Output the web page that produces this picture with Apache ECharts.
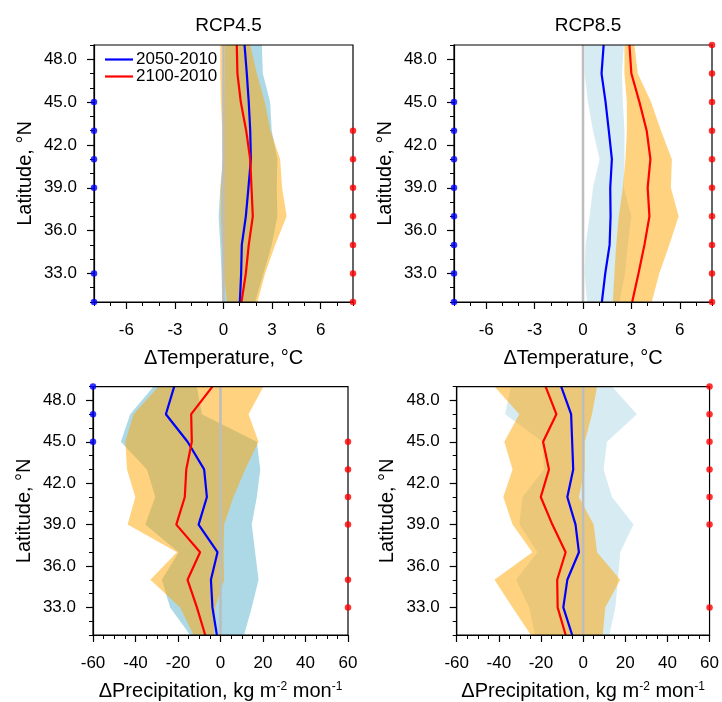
<!DOCTYPE html>
<html>
<head>
<meta charset="utf-8">
<script src="https://cdn.jsdelivr.net/npm/echarts@6/dist/echarts.min.js"></script>
<style>
html,body{margin:0;padding:0;background:#fff;}
#chart{width:722px;height:702px;}
</style>
</head>
<body>
<div id="chart"></div>
<script>
// ---- Data ----
const lat = [31, 33, 35, 37, 39, 41, 43, 45, 47, 49];
const latTicks = [33, 36, 39, 42, 45, 48];
const tempTicks = [-6, -3, 0, 3, 6];
const precTicks = [-60, -40, -20, 0, 20, 40, 60];
const seriesNames = ['2050-2010', '2100-2010'];
const panelTitles = ['RCP4.5', 'RCP8.5'];

// RCP4.5 temperature
const t45_2050 = [1.01, 1.09, 1.13, 1.38, 1.54, 1.69, 1.65, 1.56, 1.44, 1.30];
const t45_2100 = [1.11, 1.38, 1.56, 1.81, 1.73, 1.65, 1.40, 1.07, 0.86, 0.82];
const t45_2050_lo = [-0.08, -0.12, -0.2, -0.3, -0.2, -0.04, 0.0, 0.04, 0.08, 0.1];
const t45_2050_hi = [1.95, 2.47, 2.98, 3.33, 3.29, 3.33, 2.98, 2.88, 2.43, 2.37];
const t45_2100_lo = [0.2, 0.04, -0.1, -0.16, -0.16, -0.04, -0.08, -0.16, -0.2, -0.2];
const t45_2100_hi = [2.1, 2.57, 3.19, 3.9, 3.62, 3.5, 2.9, 2.55, 2.06, 1.65];
const t45_sig2050 = [31, 33, 39, 41, 43, 45];
const t45_sig2100 = [31, 33, 35, 37, 39, 41, 43];

// RCP8.5 temperature
const t85_2050 = [1.17, 1.38, 1.65, 1.71, 1.69, 1.79, 1.60, 1.40, 1.15, 1.28];
const t85_2100 = [3.05, 3.44, 3.81, 4.12, 4.01, 4.18, 3.95, 3.50, 3.0, 2.88];
const t85_2050_lo = [0.25, 0.1, 0.16, 0.41, 0.62, 1.03, 0.62, 0.31, 0.1, 0.1];
const t85_2050_hi = [2.26, 2.61, 2.78, 3.0, 2.53, 2.57, 2.57, 2.47, 2.41, 2.53];
const t85_2100_lo = [1.85, 1.95, 2.06, 2.22, 2.47, 2.63, 2.72, 2.72, 2.57, 2.57];
const t85_2100_hi = [4.26, 4.73, 5.35, 5.93, 5.45, 5.51, 4.84, 4.22, 3.4, 3.19];
const t85_sig2050 = [31, 33, 35, 37, 39, 41, 43, 45];
const t85_sig2100 = [31, 33, 35, 37, 39, 41, 43, 45, 47, 49];

// RCP4.5 precipitation
const p45_2050 = [-1.7, -3.8, -4.5, -1.4, -10.3, -6.4, -7.7, -15.5, -25.7, -21.8];
const p45_2100 = [-7.2, -11.1, -15.5, -9.6, -20.8, -16.8, -16.1, -13.5, -13.8, -3.8];
const p45_2050_lo = [-14.3, -23.7, -27.6, -19.7, -35.4, -30.7, -34.6, -46.9, -42.5, -31.5];
const p45_2050_hi = [11.1, 14.7, 17.9, 16.3, 14.7, 17.1, 18.7, 17.1, -8.8, -11.1];
const p45_2100_lo = [-12.7, -19, -33, -20.5, -43.7, -40.1, -44, -44.8, -40.9, -29.2];
const p45_2100_hi = [-3, -2.5, 1.7, 1.4, 1.7, 6.1, 11.6, 17.9, 13.2, 20.2];
const p45_sig2050 = [45, 47, 49];
const p45_sig2100 = [33, 35, 39, 41, 43, 45];

// RCP8.5 precipitation
const p85_2050 = [-5.2, -9.4, -7.5, -2.0, -3.6, -7.5, -4.7, -5.2, -5.7, -10.4];
const p85_2100 = [-8.3, -12.1, -12.3, -8.3, -14.6, -20.1, -16.2, -19.0, -12.7, -17.8];
const p85_2050_lo = [-22.8, -25.6, -31.9, -21.7, -30.3, -28.8, -18.6, -19.3, -37, -34.3];
const p85_2050_hi = [12.4, 15.3, 16.5, 17.6, 23.9, 13.7, 9.7, 11.3, 25.5, 13.7];
const p85_2100_lo = [-24.8, -33.5, -42.1, -24.1, -33.5, -37.9, -33.5, -37.4, -30.3, -42.1];
const p85_2100_hi = [9.3, 10.5, 17.6, 6.6, 5, -2, 0.8, 0.8, 4.2, 6.6];
const p85_sig2050 = [];
const p85_sig2100 = [33, 39, 41, 43, 45, 47, 49];

// ---- Layout / style ----
const FONT = '"Liberation Sans", Arial, Helvetica, sans-serif';
const latMin = 31, latMax = 49;
const panels = [
  { grid: { left: 94, top: 45, width: 259, height: 257 }, xmin: -8, xmax: 8, minor: 1, major: tempTicks,
    name: 'ΔTemperature, °C', l1: t45_2050, l2: t45_2100, b1lo: t45_2050_lo, b1hi: t45_2050_hi,
    b2lo: t45_2100_lo, b2hi: t45_2100_hi, s1: t45_sig2050, s2: t45_sig2100, blueFill: 'rgb(173,216,230)' },
  { grid: { left: 454, top: 45, width: 258, height: 257 }, xmin: -8, xmax: 8, minor: 1, major: tempTicks,
    name: 'ΔTemperature, °C', l1: t85_2050, l2: t85_2100, b1lo: t85_2050_lo, b1hi: t85_2050_hi,
    b2lo: t85_2100_lo, b2hi: t85_2100_hi, s1: t85_sig2050, s2: t85_sig2100, blueFill: 'rgba(173,216,230,0.5)' },
  { grid: { left: 93, top: 386.6, width: 255, height: 253.4 }, xmin: -60, xmax: 60, minor: 5, major: precTicks,
    name: 'ΔPrecipitation, kg m{sup|-2} mon{sup|-1}', l1: p45_2050, l2: p45_2100, b1lo: p45_2050_lo, b1hi: p45_2050_hi,
    b2lo: p45_2100_lo, b2hi: p45_2100_hi, s1: p45_sig2050, s2: p45_sig2100, blueFill: 'rgb(173,216,230)' },
  { grid: { left: 456.7, top: 386.6, width: 253.3, height: 253.4 }, xmin: -60, xmax: 60, minor: 5, major: precTicks,
    name: 'ΔPrecipitation, kg m{sup|-2} mon{sup|-1}', l1: p85_2050, l2: p85_2100, b1lo: p85_2050_lo, b1hi: p85_2050_hi,
    b2lo: p85_2100_lo, b2hi: p85_2100_hi, s1: p85_sig2050, s2: p85_sig2100, blueFill: 'rgba(173,216,230,0.5)' }
];

const grids = [], xAxes = [], yAxes = [], series = [];

function band(i, lo, hi, fill, z) {
  return {
    type: 'custom', xAxisIndex: 2 * i, yAxisIndex: 2 * i, silent: true, z: z,
    data: [[lo[0], lat[0]]],
    renderItem: function (params, api) {
      const pts = [];
      for (let k = 0; k < lat.length; k++) pts.push(api.coord([lo[k], lat[k]]));
      for (let k = lat.length - 1; k >= 0; k--) pts.push(api.coord([hi[k], lat[k]]));
      return { type: 'polygon', shape: { points: pts }, style: { fill: fill, stroke: null } };
    }
  };
}

panels.forEach(function (p, i) {
  grids.push(Object.assign({ show: true, borderColor: '#000', borderWidth: 1.2, backgroundColor: 'transparent', z: 3 }, p.grid));
  const nameStyle = { fontSize: 20, color: '#000', fontFamily: FONT,
    rich: { sup: { fontSize: 12, verticalAlign: 'top', color: '#000', fontFamily: FONT, padding: [0, 0, 0, 0] } } };
  // minor x axis
  xAxes.push({ type: 'value', gridIndex: i, position: 'bottom', min: p.xmin, max: p.xmax, interval: p.minor, z: 3,
    axisLine: { show: true, onZero: false, lineStyle: { color: '#000', width: 1.2 } },
    axisTick: { show: true, length: 4, lineStyle: { color: '#000', width: 1 } },
    axisLabel: { show: false }, splitLine: { show: false },
    name: p.name, nameLocation: 'middle', nameGap: 46, nameTextStyle: nameStyle });
  // major x axis
  xAxes.push({ type: 'value', gridIndex: i, position: 'bottom', min: p.xmin, max: p.xmax, z: 3,
    axisLine: { show: false, onZero: false },
    axisTick: { show: true, length: 7, customValues: p.major, lineStyle: { color: '#000', width: 1.2 } },
    axisLabel: { show: true, customValues: p.major, margin: 20, fontSize: 17, color: '#000', fontFamily: FONT },
    splitLine: { show: false } });
  // minor y axis
  yAxes.push({ type: 'value', gridIndex: i, position: 'left', min: latMin, max: latMax, interval: 1, z: 3,
    axisLine: { show: true, onZero: false, lineStyle: { color: '#000', width: 1.2 } },
    axisTick: { show: true, length: 4, lineStyle: { color: '#000', width: 1 } },
    axisLabel: { show: false }, splitLine: { show: false },
    name: 'Latitude, °N', nameLocation: 'middle', nameGap: 59, nameRotate: 90,
    nameTextStyle: { fontSize: 20, color: '#000', fontFamily: FONT } });
  // major y axis
  yAxes.push({ type: 'value', gridIndex: i, position: 'left', min: latMin, max: latMax, z: 3,
    axisLine: { show: false, onZero: false },
    axisTick: { show: true, length: 7, customValues: latTicks, lineStyle: { color: '#000', width: 1.2 } },
    axisLabel: { show: true, customValues: latTicks, margin: 17, fontSize: 17, color: '#000', fontFamily: FONT,
      formatter: function (v) { return Number(v).toFixed(1); } },
    splitLine: { show: false } });

  // bands
  series.push(band(i, p.b1lo, p.b1hi, p.blueFill, 1));
  series.push(band(i, p.b2lo, p.b2hi, 'rgba(255,165,0,0.5)', 1));
  // zero reference line
  series.push({ type: 'line', xAxisIndex: 2 * i, yAxisIndex: 2 * i, silent: true, z: 2, symbol: 'none',
    data: [[0, latMin], [0, latMax]], lineStyle: { color: '#bdbdbd', width: 2.5 } });
  // mean lines
  series.push({ type: 'line', name: seriesNames[0], xAxisIndex: 2 * i, yAxisIndex: 2 * i, z: 2, symbol: 'none',
    color: '#0000ff', lineStyle: { color: '#0000ff', width: 2.2 },
    data: lat.map(function (la, k) { return [p.l1[k], la]; }) });
  series.push({ type: 'line', name: seriesNames[1], xAxisIndex: 2 * i, yAxisIndex: 2 * i, z: 2, symbol: 'none',
    color: '#ff0000', lineStyle: { color: '#ff0000', width: 2.2 },
    data: lat.map(function (la, k) { return [p.l2[k], la]; }) });
  // significance dots
  series.push({ type: 'scatter', xAxisIndex: 2 * i, yAxisIndex: 2 * i, z: 5, clip: false, silent: true,
    symbol: 'circle', symbolSize: 6.5, itemStyle: { color: '#0000ff' },
    data: p.s1.map(function (la) { return [p.xmin, la]; }) });
  series.push({ type: 'scatter', xAxisIndex: 2 * i, yAxisIndex: 2 * i, z: 5, clip: false, silent: true,
    symbol: 'circle', symbolSize: 6.5, itemStyle: { color: '#ff0000' },
    data: p.s2.map(function (la) { return [p.xmax, la]; }) });
});

const option = {
  animation: false,
  backgroundColor: '#fff',
  textStyle: { fontFamily: FONT },
  title: [
    { text: panelTitles[0], left: 223.5, top: 11, textAlign: 'center',
      textStyle: { fontSize: 19, fontWeight: 'normal', color: '#000', fontFamily: FONT } },
    { text: panelTitles[1], left: 583, top: 11, textAlign: 'center',
      textStyle: { fontSize: 19, fontWeight: 'normal', color: '#000', fontFamily: FONT } }
  ],
  legend: {
    data: seriesNames, orient: 'vertical', left: 105, top: 51, itemGap: 0, padding: 0,
    icon: 'rect', itemWidth: 28, itemHeight: 2.2, selectedMode: false, z: 6,
    textStyle: { fontSize: 17, color: '#000', fontFamily: FONT, padding: [0, 0, 0, -2] }
  },
  grid: grids,
  xAxis: xAxes,
  yAxis: yAxes,
  series: series
};

const chart = echarts.init(document.getElementById('chart'), null, { renderer: 'canvas' });
chart.setOption(option);
</script>
</body>
</html>
